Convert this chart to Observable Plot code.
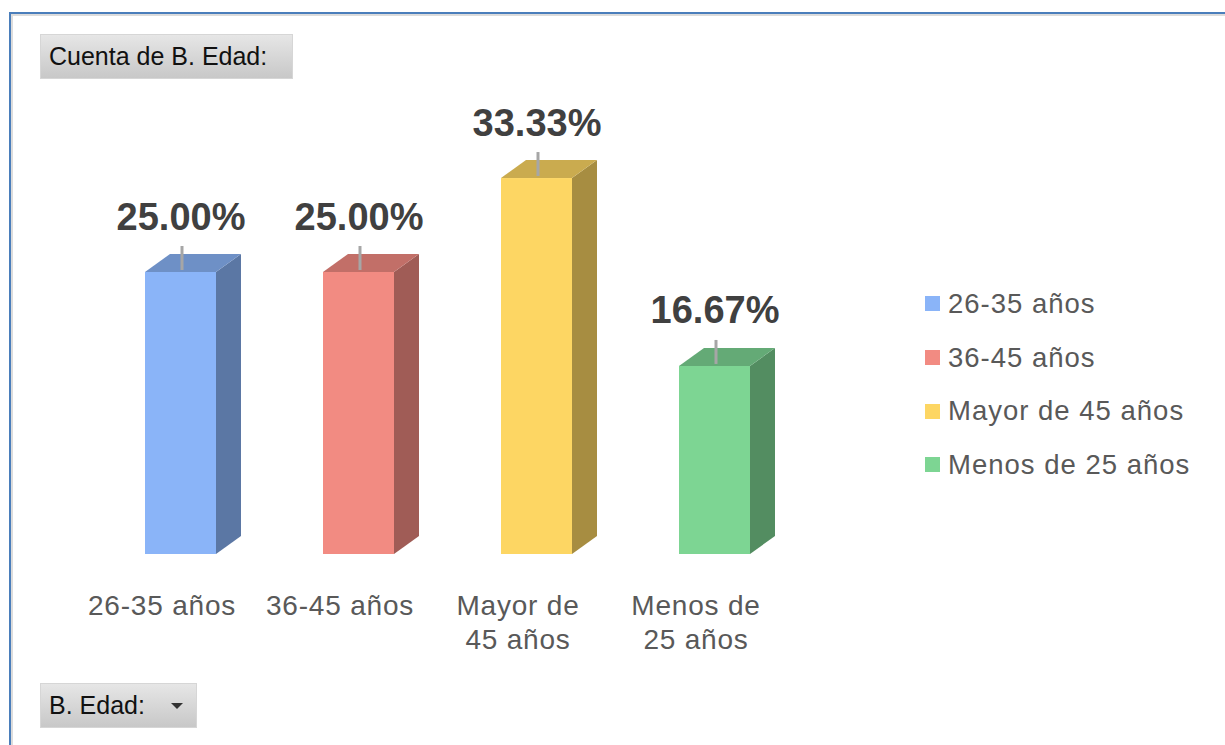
<!DOCTYPE html>
<html>
<head>
<meta charset="utf-8">
<script src="https://cdn.jsdelivr.net/npm/d3@7"></script>
<script src="https://cdn.jsdelivr.net/npm/@observablehq/plot@0.6"></script>
<style>
  html, body { margin: 0; padding: 0; background: #fff; }
  #wrap { position: relative; width: 1225px; height: 745px; overflow: hidden; font-family: "Liberation Sans", Arial, sans-serif; }
  #frame { position: absolute; left: 9px; top: 12px; width: 1300px; height: 800px;
           border-top: 2px solid #4a7ebb; border-left: 2.5px solid #4a7ebb;
           box-shadow: inset 2px 2px 0 #dcdcdc; box-sizing: border-box; }
  .btn { position: absolute; box-sizing: border-box; background: linear-gradient(#e6e6e6, #c8c8c8);
         border: 1px solid #d6d6d6; color: #111; font-size: 25px; line-height: 43px; padding-left: 8px; }
  #btn1 { left: 40px; top: 34px; width: 253px; height: 45px; }
  #btn2 { left: 40px; top: 683px; width: 157px; height: 45px; }
  #arrow { position: absolute; left: 130px; top: 19px; width: 0; height: 0;
           border-left: 6px solid transparent; border-right: 6px solid transparent; border-top: 6px solid #333; }
  #chart { position: absolute; left: 0; top: 0; }
  #legend { position: absolute; left: 925px; top: 277px; }
  #legend .lg-swatch { height: 53.7px; margin: 0; padding: 0; display: flex; align-items: center;
                       font-family: "Liberation Sans", Arial, sans-serif; font-size: 27.5px; color: #595959; letter-spacing: 1px; }
  #legend .lg-swatch svg { margin-right: 8px; flex-shrink: 0; }
  #legend .lg-swatches { margin: 0; }
</style>
</head>
<body>
<div id="wrap">
  <div id="frame"></div>
  <div class="btn" id="btn1">Cuenta de B. Edad:</div>
  <div class="btn" id="btn2">B. Edad:<span id="arrow"></span></div>
  <div id="chart"></div>
  <div id="legend"></div>
</div>
<script>
// ---- data ----
const categories = ["26-35 años", "36-45 años", "Mayor de 45 años", "Menos de 25 años"];
const values = [25.00, 25.00, 33.33, 16.67];
const valueLabels = ["25.00%", "25.00%", "33.33%", "16.67%"];
const axisLabels = ["26-35 años", "36-45 años", "Mayor de\n45 años", "Menos de\n25 años"];
const palette = ["#8ab4f8", "#f28b82", "#fdd663", "#7dd593"];

const data = categories.map((c, i) => ({category: c, value: values[i], label: valueLabels[i], axis: axisLabels[i]}));

// 3D depth (pixels)
const DX = 25, DY = -18;
function shade(c, k) {
  const r = d3.rgb(c);
  return d3.rgb(r.r * k, r.g * k, r.b * k).formatHex();
}

function bars3d(index, scales, vals, dims, ctx, next) {
  const g = next(index, scales, vals, dims, ctx);
  const rects = Array.from(g.querySelectorAll("rect"));
  const ns = "http://www.w3.org/2000/svg";
  rects.forEach(r => {
    const x = +r.getAttribute("x"), y = +r.getAttribute("y");
    const w = +r.getAttribute("width"), h = +r.getAttribute("height");
    const fill = r.getAttribute("fill");
    const side = document.createElementNS(ns, "polygon");
    side.setAttribute("points", [[x + w, y + h], [x + w + DX, y + h + DY], [x + w + DX, y + DY], [x + w, y]].map(p => p.join(",")).join(" "));
    side.setAttribute("fill", shade(fill, 0.66));
    g.appendChild(side);
    const top = document.createElementNS(ns, "polygon");
    top.setAttribute("points", [[x, y], [x + DX, y + DY], [x + w + DX, y + DY], [x + w, y]].map(p => p.join(",")).join(" "));
    top.setAttribute("fill", shade(fill, 0.8));
    g.appendChild(top);
    const lead = document.createElementNS(ns, "line");
    const cx = x + w / 2 + 1.5;
    lead.setAttribute("x1", cx); lead.setAttribute("x2", cx);
    lead.setAttribute("y1", y - 2); lead.setAttribute("y2", y - 26);
    lead.setAttribute("stroke", "#a6a6a6"); lead.setAttribute("stroke-width", 3);
    g.appendChild(lead);
  });
  return g;
}

function spaced(ls) {
  return (index, scales, vals, dims, ctx, next) => {
    const g = next(index, scales, vals, dims, ctx);
    g.setAttribute("letter-spacing", ls);
    return g;
  };
}

const chart = Plot.plot({
  width: 1225,
  height: 745,
  marginTop: 0, marginBottom: 0, marginLeft: 0, marginRight: 0,
  style: {background: "transparent", fontFamily: "'Liberation Sans', Arial, sans-serif", overflow: "visible"},
  x: {domain: categories, range: [91.6, 803.6], paddingInner: 0.6, paddingOuter: 0.3, axis: null},
  y: {domain: [0, 40], range: [554, 102.8], axis: null},
  color: {domain: categories, range: palette},
  marks: [
    Plot.barY(data, {x: "category", y: "value", fill: "category", render: bars3d}),
    Plot.text(data, {x: "category", y: "value", text: "label", dx: 0, dy: -43, lineAnchor: "bottom",
      fontSize: 38, fontWeight: "bold", fill: "#404040"}),
    Plot.text(data, {x: "category", y: () => 0, text: "axis", dx: -19, dy: 37, lineAnchor: "top",
      lineHeight: 1.2, fontSize: 28, fill: "#595959", render: spaced(0.8)})
  ]
});
document.getElementById("chart").appendChild(chart);

const legend = Plot.legend({
  color: {domain: categories, range: palette},
  legend: "swatches",
  columns: 1,
  swatchSize: 15,
  className: "lg"
});
document.getElementById("legend").appendChild(legend);
</script>
</body>
</html>
